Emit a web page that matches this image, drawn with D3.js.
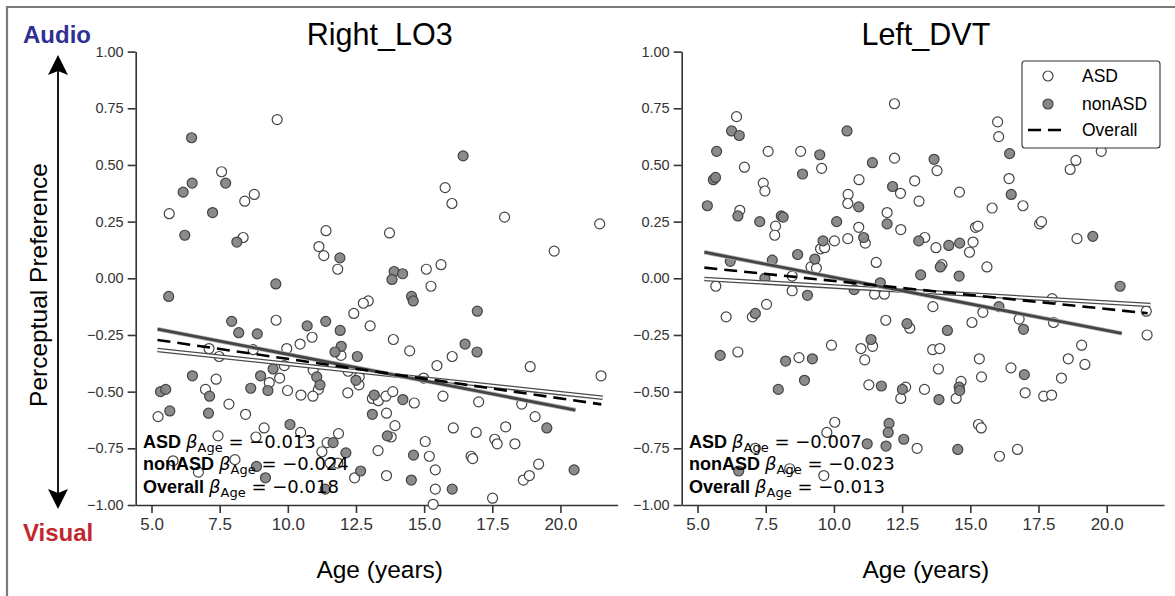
<!DOCTYPE html>
<html><head><meta charset="utf-8">
<script src="https://cdn.jsdelivr.net/npm/d3@7"></script>
<style>
body{margin:0;background:#fff;}
svg{display:block;}
text{font-family:"Liberation Sans",Arial,sans-serif;}
</style></head>
<body>
<svg id="chart" width="1175" height="596"></svg>
<script>
// ---------- data ----------
const panelTitles = ["Right_LO3", "Left_DVT"];
const yTicks = [-1, -0.75, -0.5, -0.25, 0, 0.25, 0.5, 0.75, 1];
const xTicks = [5, 7.5, 10, 12.5, 15, 17.5, 20];
const groups = ["ASD", "nonASD", "Overall"];

// Right_LO3 : [age, perceptual preference]
const lo3_asd = [[9.61,0.70],[7.57,0.47],[8.42,0.34],[8.77,0.37],[5.65,0.285],[8.36,0.18],[11.40,0.21],[11.14,0.14],[11.32,0.10],
[15.77,0.40],[16.02,0.33],[17.95,0.27],[21.44,0.24],[19.77,0.12],[11.83,0.04],[13.73,0.20],[15.08,0.04],[15.62,0.06],[15.25,-0.035],
[12.95,-0.10],[12.77,-0.11],[12.42,-0.155],[9.57,-0.185],[13.02,-0.21],[10.89,-0.26],[10.45,-0.29],[9.96,-0.31],[8.73,-0.315],
[7.11,-0.31],[7.48,-0.345],[11.95,-0.34],[13.87,-0.27],[9.87,-0.385],[9.70,-0.44],[7.37,-0.445],[10.93,-0.405],[11.12,-0.49],
[9.32,-0.46],[9.99,-0.495],[10.48,-0.515],[10.92,-0.52],[6.98,-0.49],[7.84,-0.555],[5.24,-0.61],[8.45,-0.60],[12.61,-0.47],
[12.20,-0.505],[13.10,-0.53],[13.32,-0.54],[13.60,-0.52],[13.85,-0.50],[13.62,-0.595],[14.47,-0.32],[16.03,-0.345],[15.47,-0.385],
[18.89,-0.39],[21.49,-0.43],[14.98,-0.44],[14.64,-0.55],[15.69,-0.52],[17.00,-0.545],[18.58,-0.555],[19.07,-0.61],[12.21,-0.41],
[12.62,-0.435],[17.99,-0.655],[16.91,-0.68],[16.07,-0.66],[17.59,-0.71],[17.68,-0.73],[18.33,-0.73],[15.04,-0.72],[13.31,-0.76],
[13.93,-0.65],[13.79,-0.70],[11.86,-0.685],[11.44,-0.725],[11.25,-0.765],[11.83,-0.815],[11.55,-0.815],[12.45,-0.88],[15.19,-0.785],
[15.41,-0.845],[16.72,-0.785],[16.78,-0.795],[13.62,-0.87],[15.41,-0.93],[17.51,-0.97],[15.33,-0.997],[18.64,-0.89],[18.86,-0.87],
[19.20,-0.82],[9.13,-0.66],[10.47,-0.68],[7.44,-0.695],[8.83,-0.70],[5.79,-0.805],[6.72,-0.855],[8.06,-0.80]];
const lo3_nonasd = [[6.47,0.62],[6.49,0.42],[6.16,0.38],[7.72,0.42],[7.24,0.29],[6.22,0.19],[8.13,0.16],[9.56,-0.025],[5.63,-0.08],
[16.43,0.54],[11.91,0.09],[13.90,0.03],[14.21,0.02],[13.82,-0.005],[14.54,-0.08],[14.60,-0.10],[16.95,-0.145],[7.94,-0.19],
[8.20,-0.24],[8.88,-0.245],[10.71,-0.21],[11.39,-0.19],[11.92,-0.23],[11.96,-0.30],[11.73,-0.325],[12.55,-0.345],[9.46,-0.40],
[9.00,-0.43],[6.50,-0.43],[11.06,-0.435],[11.18,-0.47],[9.27,-0.495],[8.64,-0.485],[7.13,-0.52],[5.33,-0.50],[5.52,-0.49],
[5.67,-0.585],[7.09,-0.595],[12.50,-0.45],[13.17,-0.515],[13.10,-0.60],[16.50,-0.29],[16.94,-0.325],[14.22,-0.535],[19.50,-0.66],
[13.65,-0.695],[11.66,-0.725],[12.13,-0.77],[12.67,-0.85],[11.37,-0.93],[14.61,-0.78],[14.53,-0.89],[16.03,-0.93],[20.50,-0.845],
[10.08,-0.645],[8.85,-0.83],[9.18,-0.88]];

// Left_DVT
const dvt_asd = [[6.43,0.713],[6.72,0.49],[6.55,0.30],[7.41,0.42],[7.47,0.385],[7.59,0.56],[7.86,0.23],[8.78,0.56],[9.55,0.485],
[10.52,0.37],[10.92,0.435],[10.91,0.225],[11.15,0.155],[12.22,0.77],[12.22,0.53],[11.95,0.29],[10.51,0.175],[10.02,0.165],
[9.51,0.13],[9.66,0.135],[9.16,0.05],[9.36,0.045],[7.83,0.19],[8.47,0.01],[8.47,-0.055],[5.67,-0.035],[11.55,0.07],[11.49,-0.07],
[11.85,-0.07],[13.78,0.475],[12.96,0.43],[12.44,0.375],[13.12,0.34],[10.51,0.33],[12.45,0.215],[13.33,0.18],[13.74,0.135],
[13.96,0.06],[7.53,-0.115],[6.05,-0.17],[7.01,-0.17],[11.90,-0.185],[13.63,-0.125],[12.78,-0.22],[9.91,-0.295],[11.42,-0.30],
[10.99,-0.31],[11.13,-0.36],[6.48,-0.325],[8.72,-0.35],[13.62,-0.315],[13.88,-0.31],[13.83,-0.40],[11.28,-0.47],[12.63,-0.48],
[12.45,-0.53],[13.32,-0.49],[10.03,-0.635],[9.74,-0.68],[7.12,-0.75],[8.38,-0.84],[9.63,-0.87],[16.00,0.69],[16.04,0.625],
[14.60,0.38],[16.42,0.44],[16.93,0.32],[15.80,0.31],[17.54,0.24],[17.61,0.25],[18.66,0.48],[18.87,0.52],[19.80,0.56],[18.91,0.175],
[15.10,0.16],[14.97,0.115],[15.19,0.225],[15.28,0.23],[15.61,0.05],[18.00,-0.09],[15.46,-0.15],[15.06,-0.195],[16.79,-0.18],
[18.05,-0.195],[21.45,-0.145],[21.48,-0.25],[15.33,-0.355],[15.41,-0.435],[16.49,-0.395],[17.01,-0.505],[17.69,-0.52],[17.98,-0.515],
[18.34,-0.44],[18.59,-0.355],[19.20,-0.38],[19.08,-0.295],[14.66,-0.455],[14.48,-0.53],[15.30,-0.645],[15.40,-0.66],[16.07,-0.785],
[16.73,-0.755],[13.05,-0.75]];
const dvt_nonasd = [[6.25,0.65],[6.53,0.63],[5.70,0.56],[5.58,0.435],[5.66,0.445],[5.36,0.32],[6.48,0.275],[7.28,0.25],[8.07,0.275],
[8.14,0.27],[8.85,0.46],[9.48,0.545],[10.48,0.65],[10.91,0.315],[11.09,0.18],[11.41,0.51],[12.15,0.405],[11.95,0.24],[10.10,0.25],
[9.60,0.165],[9.30,0.085],[8.67,0.105],[7.74,0.08],[6.20,0.075],[7.47,0.0],[9.03,-0.075],[10.74,-0.05],[11.70,-0.02],[13.67,0.525],
[13.11,0.165],[14.21,0.145],[13.90,0.05],[13.18,0.015],[7.12,-0.155],[12.68,-0.20],[14.16,-0.23],[11.36,-0.27],[5.83,-0.34],
[8.23,-0.365],[9.21,-0.355],[8.92,-0.45],[7.96,-0.49],[11.74,-0.475],[12.51,-0.49],[13.85,-0.535],[12.02,-0.64],[11.99,-0.68],
[11.22,-0.73],[11.91,-0.74],[6.51,-0.85],[16.44,0.55],[16.50,0.37],[19.49,0.185],[20.49,-0.035],[14.61,0.155],[14.59,0.01],
[16.05,-0.125],[16.95,-0.225],[16.98,-0.425],[14.59,-0.48],[14.61,-0.495],[14.54,-0.755],[12.56,-0.71]];

// fitted regression lines: [[ageStart, valStart],[ageEnd, valEnd]]
const lo3_fit_asd = [[5.22,-0.316],[21.55,-0.527]];
const lo3_fit_nonasd = [[5.22,-0.224],[20.55,-0.581]];
const lo3_fit_overall = [[5.22,-0.272],[21.5,-0.556]];
const dvt_fit_asd = [[5.25,-0.003],[21.6,-0.118]];
const dvt_fit_nonasd = [[5.25,0.115],[20.55,-0.243]];
const dvt_fit_overall = [[5.25,0.047],[21.5,-0.154]];

const lo3_betas = ["−0.013", "−0.024", "−0.018"];
const dvt_betas = ["−0.007", "−0.023", "−0.013"];

// ---------- drawing ----------
const svg = d3.select("#chart");
const y = d3.scaleLinear().domain([-1, 1]).range([505, 51.6]);
const xDomain = [4.42, 22.1];

// frame
svg.append("path").attr("d","M7,596 V7 H1175").attr("fill","none").attr("stroke","#7a7a7a").attr("stroke-width",2.2);

// Audio / Visual side
svg.append("text").attr("x",23).attr("y",43).attr("font-size",24).attr("font-weight","bold").attr("fill","#2e3192").text("Audio");
svg.append("text").attr("x",23).attr("y",541).attr("font-size",24).attr("font-weight","bold").attr("fill","#c1272d").text("Visual");
svg.append("line").attr("x1",58).attr("x2",58).attr("y1",66).attr("y2",497).attr("stroke","#000").attr("stroke-width",1.8);
svg.append("path").attr("d","M58,55 L48,75 L58,71 L68,75 Z").attr("fill","#000");
svg.append("path").attr("d","M58,509 L48,489 L58,493 L68,489 Z").attr("fill","#000");
svg.append("text").attr("transform","translate(47,285) rotate(-90)").attr("text-anchor","middle")
  .attr("font-size",24.5).attr("fill","#000").text("Perceptual Preference");

const panels = [
  {title: panelTitles[0], range:[135.7,617.7], asd: lo3_asd, non: lo3_nonasd,
   fits:[lo3_fit_asd, lo3_fit_nonasd, lo3_fit_overall], betas: lo3_betas, textX: 143},
  {title: panelTitles[1], range:[681.7,1164], asd: dvt_asd, non: dvt_nonasd,
   fits:[dvt_fit_asd, dvt_fit_nonasd, dvt_fit_overall], betas: dvt_betas, textX: 689, legend: true}
];

panels.forEach(p => {
  const x = d3.scaleLinear().domain(xDomain).range(p.range);
  const g = svg.append("g");
  const cx = (p.range[0] + p.range[1]) / 2 + 3;

  g.append("text").attr("x", cx).attr("y", 45).attr("text-anchor","middle").attr("font-size",30.5).attr("fill","#000").text(p.title);

  // axes
  const ya = g.append("g").attr("transform",`translate(${p.range[0]},0)`)
    .call(d3.axisLeft(y).tickValues(yTicks).tickFormat(d3.format(".2f")).tickSize(8).tickSizeOuter(0).tickPadding(4));
  ya.selectAll("text").style("font-size","14.5px").style("fill","#333").style("font-family","'Liberation Sans', Arial, sans-serif");
  const xa = g.append("g").attr("transform",`translate(0,${y(-1)})`)
    .call(d3.axisBottom(x).tickValues(xTicks).tickFormat(d3.format(".1f")).tickSize(8).tickSizeOuter(0).tickPadding(5));
  xa.selectAll("text").style("font-size","17px").style("fill","#333").style("font-family","'Liberation Sans', Arial, sans-serif");
  [ya, xa].forEach(a => {
    a.select(".domain").attr("stroke","#333").attr("stroke-width",1.6);
    a.selectAll(".tick line").attr("stroke","#333").attr("stroke-width",1.6);
  });

  g.append("text").attr("x", cx).attr("y", 578).attr("text-anchor","middle").attr("font-size",24.5).attr("fill","#000").text("Age (years)");

  // points
  g.append("g").selectAll("circle.asd").data(p.asd).join("circle")
    .attr("cx", d => x(d[0])).attr("cy", d => y(d[1])).attr("r",5)
    .attr("fill","#fff").attr("stroke","#444").attr("stroke-width",1.2);
  g.append("g").selectAll("circle.non").data(p.non).join("circle")
    .attr("cx", d => x(d[0])).attr("cy", d => y(d[1])).attr("r",5)
    .attr("fill","#858585").attr("stroke","#444").attr("stroke-width",1.2).attr("fill-opacity",0.95);

  const line = d3.line().x(d => x(d[0])).y(d => y(d[1]));
  // ASD fit: white core with dark edges
  g.append("path").attr("d", line(p.fits[0])).attr("stroke","#4a4a4a").attr("stroke-width",4.6).attr("fill","none");
  g.append("path").attr("d", line(p.fits[0])).attr("stroke","#fff").attr("stroke-width",2.0).attr("fill","none");
  // nonASD fit: dark core with light edges
  g.append("path").attr("d", line(p.fits[1])).attr("stroke","#b5b5b5").attr("stroke-width",4.4).attr("fill","none");
  g.append("path").attr("d", line(p.fits[1])).attr("stroke","#444").attr("stroke-width",2.8).attr("fill","none");
  // Overall fit
  g.append("path").attr("d", line(p.fits[2])).attr("stroke","#000").attr("stroke-width",2.6)
    .attr("stroke-dasharray","13,7").attr("fill","none");

  // annotations
  const baselines = [448, 470, 493];
  groups.forEach((grp, i) => {
    const t = g.append("text").attr("x", p.textX).attr("y", baselines[i]).attr("font-size",18).attr("fill","#000");
    t.append("tspan").attr("font-weight","bold").attr("font-family","Liberation Sans, Arial, sans-serif").text(grp + " ");
    t.append("tspan").attr("font-family","DejaVu Sans").attr("font-style","italic").text("β");
    t.append("tspan").attr("font-family","DejaVu Sans").attr("font-size",13).attr("dy",4).text("Age");
    t.append("tspan").attr("font-family","DejaVu Sans").attr("dy",-4).text(" = " + p.betas[i]);
  });

  // legend
  if (p.legend) {
    const lg = g.append("g");
    lg.append("rect").attr("x",1022).attr("y",61).attr("width",138).attr("height",87).attr("rx",3)
      .attr("fill","#fff").attr("stroke","#333").attr("stroke-width",1.1);
    lg.append("circle").attr("cx",1048).attr("cy",76).attr("r",5).attr("fill","#fff").attr("stroke","#444").attr("stroke-width",1.2);
    lg.append("circle").attr("cx",1048).attr("cy",104).attr("r",5).attr("fill","#858585").attr("stroke","#444").attr("stroke-width",1.2);
    lg.append("line").attr("x1",1028).attr("x2",1068).attr("y1",130).attr("y2",130).attr("stroke","#000")
      .attr("stroke-width",2.6).attr("stroke-dasharray","13,7");
    groups.forEach((grp, i) => {
      lg.append("text").attr("x",1082).attr("y",[82,110,136][i]).attr("font-size",17.5).attr("fill","#000").text(grp);
    });
  }
});
</script>
</body></html>
